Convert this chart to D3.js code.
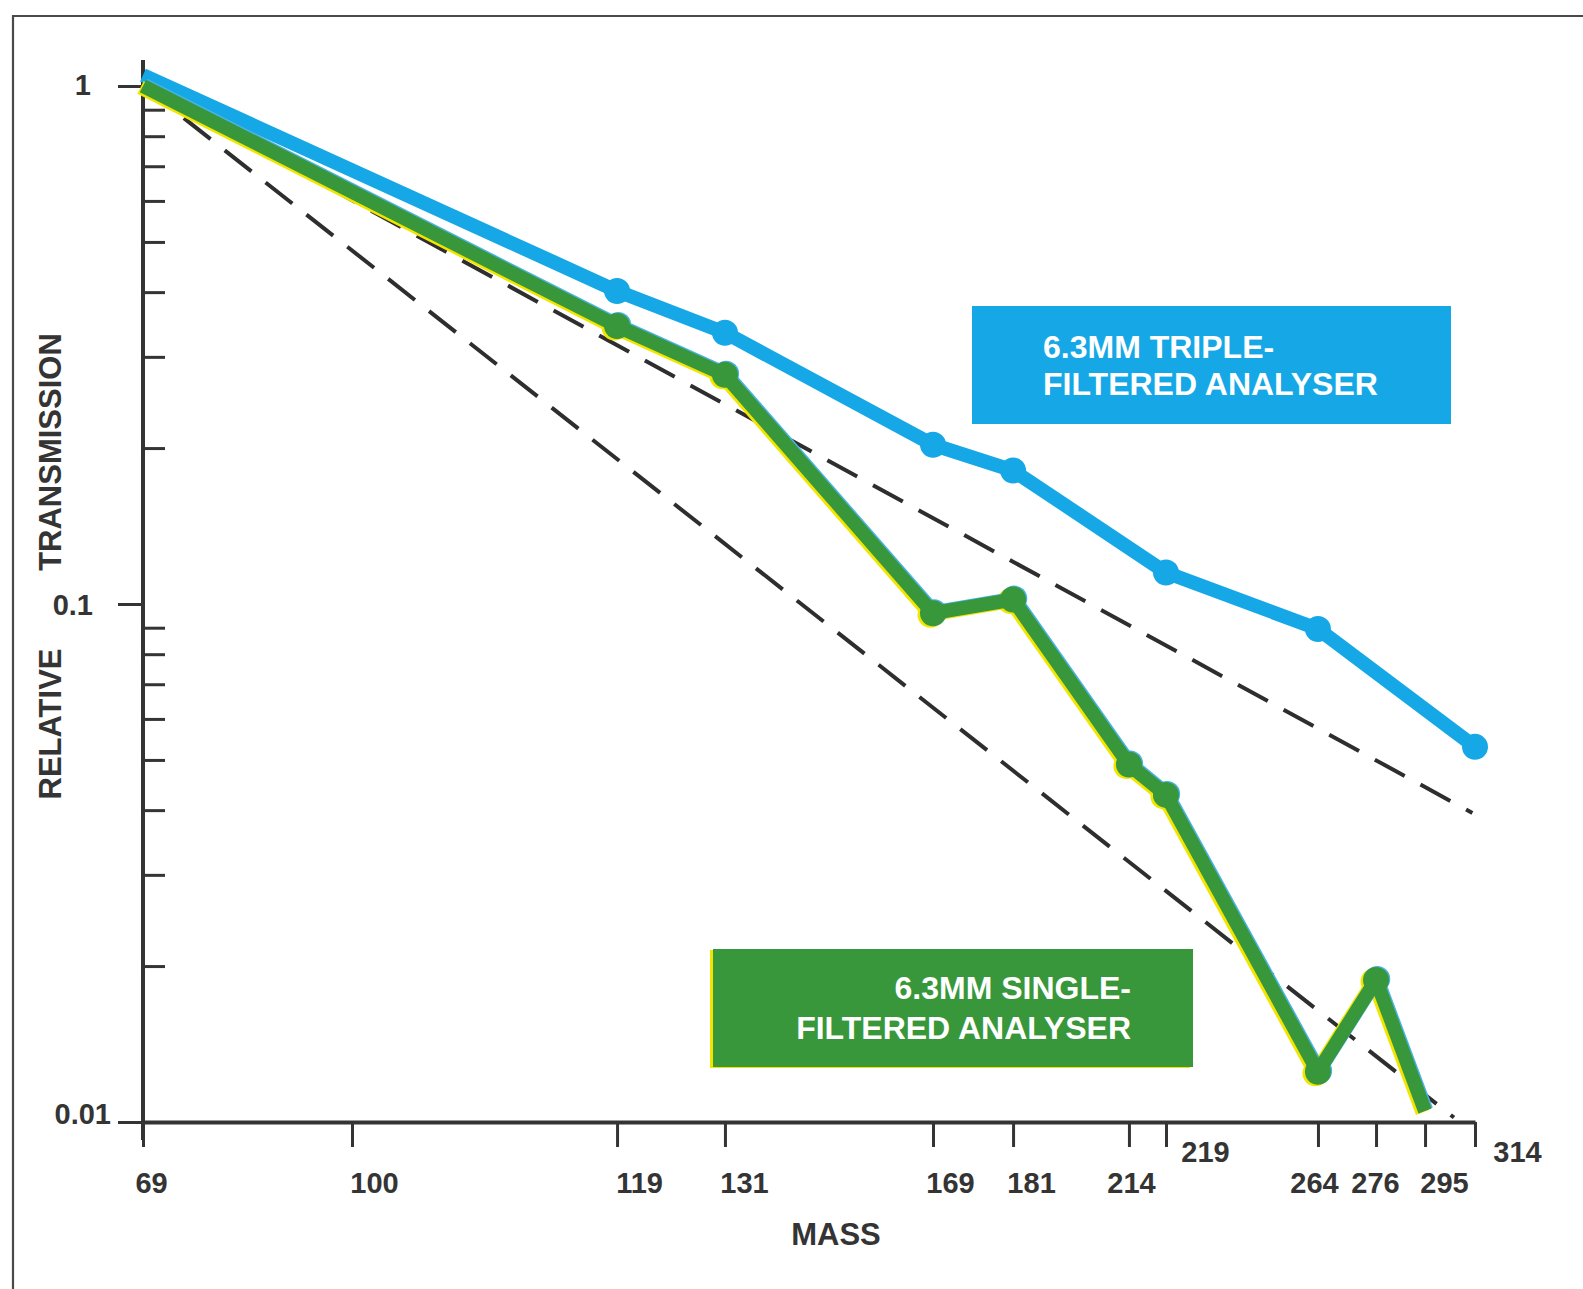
<!DOCTYPE html>
<html>
<head>
<meta charset="utf-8">
<script src="https://cdn.jsdelivr.net/npm/d3@7"></script>
<style>
  html, body { margin: 0; padding: 0; background: #fff; }
  svg { display: block; }
  text { font-family: "Liberation Sans", Arial, Helvetica, sans-serif; font-weight: bold; }
</style>
</head>
<body>
<div id="chart"></div>
<script>
// ---------------- DATA ----------------
const massTicks = [69, 100, 119, 131, 169, 181, 214, 219, 264, 276, 295, 314];
const yMajorTicks = [1, 0.1, 0.01];
const yMajorLabels = ["1", "0.1", "0.01"];

// 6.3mm triple-filtered analyser (blue)
const tripleMass = [69, 119, 131, 169, 181, 219, 264, 314];
const tripleTransmission = [1.05, 0.402, 0.334, 0.203, 0.181, 0.115, 0.0895, 0.053];

// 6.3mm single-filtered analyser (green)
const singleMass = [69, 119, 131, 169, 181, 214, 219, 264, 276, 295];
const singleTransmission = [1.0, 0.344, 0.277, 0.096, 0.102, 0.049, 0.0428, 0.0125, 0.0188, 0.0105];

// dashed reference lines (start and end points)
const refStartMass = [69, 69];
const refStartValue = [1, 1];
const refEndMass = [313, 306];
const refEndValue = [0.0395, 0.0102];

const legendTriple = ["6.3MM TRIPLE-", "FILTERED ANALYSER"];
const legendSingle = ["6.3MM SINGLE-", "FILTERED ANALYSER"];
const xTitle = "MASS";
const yTitleLow = "RELATIVE";
const yTitleHigh = "TRANSMISSION";

// ---------------- LAYOUT ----------------
const W = 1583, H = 1289;
const plotLeft = 143, plotRight = 1475, yTop = 86, yBottom = 1122;
// hand-drawn, irregular mass axis: relative tick positions
const tickFrac = [0, 0.1569, 0.3559, 0.4369, 0.5931, 0.6532, 0.7402, 0.7680, 0.8821, 0.9257, 0.9625, 1];
// label offsets along the mass axis
const labelDx = [8, 22, 22, 19, 17, 18, 2, 39, -4, -1, 19, 42];
const labelRaised = [false, false, false, false, false, false, false, true, false, false, false, true];

const ink = "#343434";
const blue = "#16a8e6";
const green = "#37973a";
const lineW = 14;

const svg = d3.select("#chart").append("svg")
  .attr("width", W).attr("height", H)
  .attr("viewBox", `0 0 ${W} ${H}`);

// frame
svg.append("path")
  .attr("d", `M13,${H} L13,16 L${W},16`)
  .attr("fill", "none").attr("stroke", "#4a4a4a").attr("stroke-width", 2.2);

const x = d3.scaleLinear()
  .domain(massTicks)
  .range(tickFrac.map(f => plotLeft + f * (plotRight - plotLeft)));

const y = d3.scaleLog().domain([0.01, 1]).range([yBottom, yTop]);

// ---------- y axis ----------
svg.append("line")
  .attr("x1", plotLeft).attr("x2", plotLeft)
  .attr("y1", y(1) - 26).attr("y2", y(0.01) + 18)
  .attr("stroke", ink).attr("stroke-width", 4);

// minor ticks (to the right)
const minorVals = [];
[0.1, 0.01].forEach(dec => { for (let k = 9; k >= 2; k--) minorVals.push(+(k * dec).toFixed(3)); });
const yMinorAxis = d3.axisRight(y).tickValues(minorVals).tickSize(22).tickFormat("");
const gMinor = svg.append("g").attr("transform", `translate(${plotLeft},0)`).call(yMinorAxis);
gMinor.select(".domain").remove();
gMinor.selectAll(".tick line").attr("stroke", ink).attr("stroke-width", 3);

// major ticks (to the left)
const yMajorAxis = d3.axisLeft(y).tickValues(yMajorTicks).tickSize(25)
  .tickFormat((d, i) => yMajorLabels[i]);
const gMajor = svg.append("g").attr("transform", `translate(${plotLeft},0)`).call(yMajorAxis);
gMajor.select(".domain").remove();
gMajor.selectAll(".tick line").attr("stroke", ink).attr("stroke-width", 3);
const yLabX = [-52, -50, -32];
const yLabDy = [-2, 0, -9];
gMajor.selectAll(".tick text")
  .attr("fill", ink).attr("font-size", 29)
  .attr("x", (d, i) => yLabX[i])
  .attr("dy", null)
  .attr("y", (d, i) => yLabDy[i] + 10);

// ---------- x axis ----------
const xAxis = d3.axisBottom(x).tickValues(massTicks).tickSize(25).tickSizeOuter(0)
  .tickFormat(d3.format("d"));
const gX = svg.append("g").attr("transform", `translate(0,${yBottom})`).call(xAxis);
gX.select(".domain").attr("stroke", ink).attr("stroke-width", 4);
gX.selectAll(".tick line").attr("stroke", ink).attr("stroke-width", 3);
gX.selectAll(".tick text")
  .attr("fill", ink).attr("font-size", 29)
  .attr("text-anchor", "middle")
  .attr("dy", null)
  .attr("x", (d, i) => labelDx[i])
  .attr("y", (d, i) => labelRaised[i] ? 40 : 71);

// axis titles
svg.append("text").text(xTitle)
  .attr("x", 836).attr("y", 1245)
  .attr("text-anchor", "middle").attr("font-size", 31).attr("fill", ink);
svg.append("text").text(yTitleLow)
  .attr("transform", `translate(61,${724}) rotate(-90)`)
  .attr("text-anchor", "middle").attr("font-size", 31).attr("fill", ink);
svg.append("text").text(yTitleHigh)
  .attr("transform", `translate(61,${452}) rotate(-90)`)
  .attr("text-anchor", "middle").attr("font-size", 31).attr("fill", ink);

// ---------- dashed reference lines ----------
svg.append("g").selectAll("line")
  .data(refEndMass.map((m, i) => ({ m0: refStartMass[i], v0: refStartValue[i], m1: m, v1: refEndValue[i] })))
  .join("line")
  .attr("x1", d => x(d.m0)).attr("y1", d => y(d.v0))
  .attr("x2", d => x(d.m1)).attr("y2", d => y(d.v1))
  .attr("stroke", "#2e2e2e").attr("stroke-width", 4)
  .attr("stroke-dasharray", "34 18");

// ---------- legend boxes ----------
function legendBox(x0, y0, w, h, fill, lines, anchor, tx, ty, lineGap, fringe) {
  const g = svg.append("g");
  if (fringe) {
    g.append("rect").attr("x", x0 - 3).attr("y", y0 + 1).attr("width", w).attr("height", h).attr("fill", "#f0e400");
  }
  g.append("rect").attr("x", x0).attr("y", y0).attr("width", w).attr("height", h).attr("fill", fill);
  lines.forEach((t, i) => {
    g.append("text").text(t)
      .attr("x", tx).attr("y", ty + i * lineGap)
      .attr("text-anchor", anchor)
      .attr("font-size", 32).attr("fill", "#ffffff");
  });
}
legendBox(972, 306, 479, 118, blue, legendTriple, "start", 1043, 358, 37, false);
legendBox(713, 949, 480, 118, green, legendSingle, "end", 1131, 999, 40, true);

// ---------- series ----------
const line = d3.line().x(d => x(d.m)).y(d => y(d.v)).curve(d3.curveLinear);

function drawSeries(mass, vals, color, markFrom, markTo, dx, dy, width) {
  const pts = mass.map((m, i) => ({ m, v: vals[i] }));
  const g = svg.append("g").attr("transform", `translate(${dx},${dy})`);
  g.append("path").datum(pts)
    .attr("d", line)
    .attr("fill", "none").attr("stroke", color)
    .attr("stroke-width", width)
    .attr("stroke-linejoin", "round").attr("stroke-linecap", "butt");
  g.selectAll("circle").data(pts.slice(markFrom, markTo))
    .join("circle")
    .attr("cx", d => x(d.m)).attr("cy", d => y(d.v))
    .attr("r", 13)
    .attr("fill", color);
}

// triple-filtered (blue)
drawSeries(tripleMass, tripleTransmission, blue, 1, tripleMass.length, 0, 0, lineW);

// single-filtered (green) with print mis-registration fringes
drawSeries(singleMass, singleTransmission, "#f2e500", 1, singleMass.length - 1, -2.5, 1.5, lineW);
drawSeries(singleMass, singleTransmission, "#4ab3e3", 1, singleMass.length - 1, 1.2, -1, lineW);
drawSeries(singleMass, singleTransmission, green, 1, singleMass.length - 1, 0, 0, lineW);
</script>
</body>
</html>
